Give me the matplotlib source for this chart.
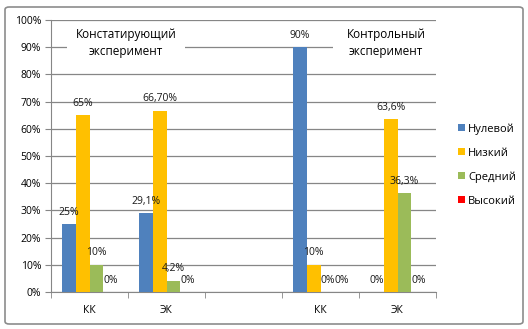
import matplotlib.pyplot as plt
import numpy as np
from matplotlib.patches import FancyBboxPatch, Rectangle

plt.rcParams['font.family'] = ['Open Sans', 'DejaVu Sans']

categories = ["КК", "ЭК", "", "КК", "ЭК"]
series = ["Нулевой", "Низкий", "Средний", "Высокий"]
colors = ["#4F81BD", "#FFC000", "#9BBB59", "#FF0000"]

nulevoy = [25, 29.1, np.nan, 90, 0]
nizkiy = [65, 66.7, np.nan, 10, 63.6]
sredniy = [10, 4.2, np.nan, 0, 36.3]
vysokiy = [0, 0, np.nan, 0, 0]

nulevoy_lbl = ["25%", "29,1%", "", "90%", "0%"]
nizkiy_lbl = ["65%", "66,70%", "", "10%", "63,6%"]
sredniy_lbl = ["10%", "4,2%", "", "0%", "36,3%"]
vysokiy_lbl = ["0%", "0%", "", "0%", "0%"]

values = [nulevoy, nizkiy, sredniy, vysokiy]
labels = [nulevoy_lbl, nizkiy_lbl, sredniy_lbl, vysokiy_lbl]

fig = plt.figure(figsize=(5.28, 3.29), dpi=100)
ax = fig.add_axes([51 / 528, 1 - 292 / 329, 385 / 528, 272 / 329])

# рамка вокруг всей диаграммы
frame = FancyBboxPatch((5 / 528, 5 / 329), 518 / 528, 317 / 329,
                       boxstyle="round,pad=0,rounding_size=0.008",
                       transform=fig.transFigure, facecolor="none",
                       edgecolor="#8c8c8c", linewidth=1.2)
fig.patches.append(frame)

x = np.arange(len(categories))
w = 0.18
for i, (vals, lbls) in enumerate(zip(values, labels)):
    pos = x + (i - 1.5) * w
    ax.bar(pos, vals, width=w, color=colors[i], label=series[i], zorder=3)
    for p, v, t in zip(pos, vals, lbls):
        if t:
            ax.annotate(t, (p, v), xytext=(0, 8.5), textcoords="offset points",
                        ha="center", va="center", fontsize=7.5, color="#1a1a1a",
                        zorder=5)

ax.set_xlim(-0.5, 4.5)
ax.set_ylim(0, 100)
ax.set_yticks(range(0, 101, 10))
ax.set_yticklabels([f"{v}%" for v in range(0, 101, 10)], fontsize=7.5)
ax.set_xticks(x)
ax.set_xticklabels(categories, fontsize=7.5)
ax.set_xticks(np.arange(-0.5, 5, 1), minor=True)
ax.tick_params(axis="x", which="major", length=0, pad=9.5)
ax.tick_params(axis="x", which="minor", length=4, color="#868686")
ax.tick_params(axis="y", length=4, color="#868686", pad=3)
ax.grid(axis="y", color="#868686", linewidth=0.9, zorder=0)
for s in ["top", "right"]:
    ax.spines[s].set_visible(False)
for s in ["left", "bottom"]:
    ax.spines[s].set_color("#868686")

# подписи экспериментов на белом фоне
ax.add_patch(Rectangle((67 / 528, 1 - 61 / 329), 118 / 528, 35 / 329,
                       transform=fig.transFigure, facecolor="white",
                       edgecolor="none", zorder=4))
fig.text(126 / 528, 1 - 43 / 329, "Констатирующий\nэксперимент",
         ha="center", va="center", fontsize=8.5, linespacing=1.45, zorder=6)
ax.add_patch(Rectangle((333 / 528, 1 - 61 / 329), 105 / 528, 35 / 329,
                       transform=fig.transFigure, facecolor="white",
                       edgecolor="none", zorder=4, clip_on=False))
fig.text(386 / 528, 1 - 43 / 329, "Контрольный\nэксперимент",
         ha="center", va="center", fontsize=8.5, linespacing=1.45, zorder=6)

fig.legend(loc="center left", bbox_to_anchor=(448 / 528, 1 - 165 / 329),
           frameon=False, fontsize=8, handlelength=0.6, handleheight=0.6,
           handletextpad=0.3, labelspacing=1.15)

fig.savefig("out.png", dpi=100)
